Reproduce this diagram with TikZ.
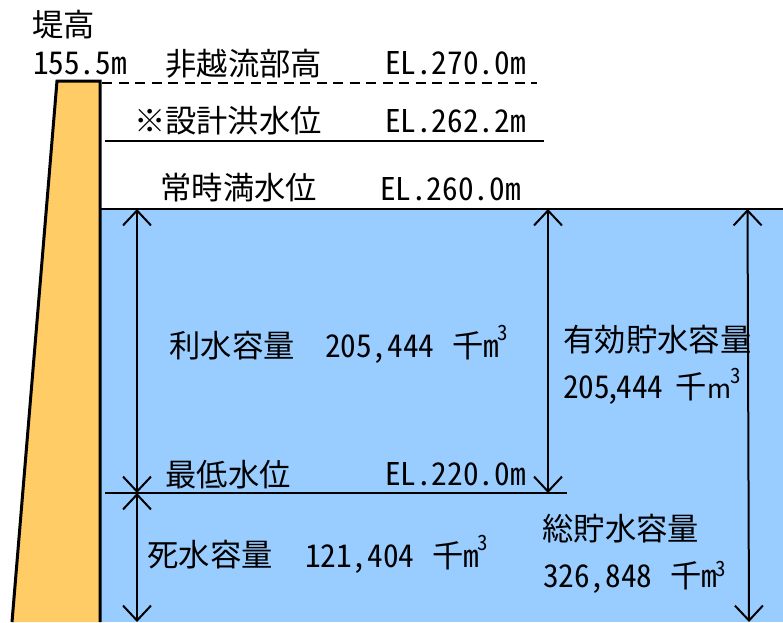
\documentclass[tikz,border=0pt]{standalone}
\usepackage{fontspec}
\usetikzlibrary{arrows.meta}
\setmainfont{Noto Sans CJK JP}
\newfontfamily\halffont[RawFeature=+hwid]{Noto Sans CJK JP}
\newcommand{\senm}[2]{千#2\raisebox{#1}{\fontsize{21}{21}\selectfont\halffont\kern-1pt 3}}
\newcommand{\narrowcomma}{\kern-4.5pt,\kern-4.5pt}
\definecolor{damcolor}{HTML}{FFCC66}
\definecolor{watercolor}{HTML}{99CCFF}
\tikzset{>={Straight Barb[length=15pt,width=28pt,line width=2pt]}}
\tikzset{label/.style={anchor=base west,inner sep=0pt,outer sep=0pt,font=\fontsize{31.3}{31.3}\selectfont}}
\tikzset{level/.style={label,font=\fontsize{31.3}{31.3}\selectfont\halffont}}
\begin{document}
\begin{tikzpicture}[x=1pt,y=-1pt]
    \useasboundingbox (0,0) rectangle (783,622);
    \fill[color=watercolor] (101,209) rectangle (783,622);
    \fill[color=damcolor] (12,622) -- (57,81) -- (100,81) -- (100,622) -- cycle;
    \draw[line width=3pt] (12,622) -- (57,81) -- (100,81) -- (100,622);
    % water levels
    \coordinate (crestL) at (102,83);
    \coordinate (crestR) at (537,83);
    \coordinate (floodL) at (105,140.5);
    \coordinate (floodR) at (544,140.5);
    \coordinate (fullL) at (101,209);
    \coordinate (fullR) at (783,209);
    \coordinate (lowL) at (105,493);
    \coordinate (lowR) at (567,493);
    \draw[line width=2pt,dash pattern=on 10pt off 6.5pt] (crestL) -- (crestR);
    \draw[line width=2pt] (floodL) -- (floodR);
    \draw[line width=2pt] (fullL) -- (fullR);
    \draw[line width=2pt] (lowL) -- (lowR);
    % volume arrows
    \coordinate (useT) at (137,209);
    \coordinate (useB) at (137,493);
    \coordinate (deadB) at (137,622);
    \coordinate (effT) at (548,209);
    \coordinate (effB) at (548,493);
    \coordinate (totT) at (747.5,209);
    \coordinate (totB) at (749,622);
    \draw[<->,line width=2pt] (useT) -- (useB);
    \draw[<->,line width=2pt] (useB) -- (deadB);
    \draw[<->,line width=2pt] (effT) -- (effB);
    \draw[<->,line width=2pt] (totT) -- (totB);
    % labels
    \node[label] (dam) at (32,36) {堤高};
    \node[level] (damH) at (33,74) {155.5m};
    \node[label] (crest) at (165.5,75) {非越流部高};
    \node[level] (crestEL) at (385,74) {EL.270.0m};
    \node[label] (flood) at (134,132) {※設計洪水位};
    \node[level] (floodEL) at (385,132) {EL.262.2m};
    \node[label] (full) at (160.5,199) {常時満水位};
    \node[level] (fullEL) at (380,200) {EL.260.0m};
    \node[label] (use) at (169.5,357) {利水容量};
    \node[level] (useV) at (325,357) {205,444};
    \node[label] (useU) at (452,357) {\senm{17pt}{{\halffont m}}};
    \node[label] (eff) at (563.5,351) {有効貯水容量};
    \node[level] (effV) at (563,398) {205\narrowcomma444};
    \node[label] (effU) at (675,398) {\senm{15pt}{{\fontsize{26}{26}\selectfont\kern1pt m}}};
    \node[label] (low) at (165.5,486) {最低水位};
    \node[level] (lowEL) at (385,485) {EL.220.0m};
    \node[label] (dead) at (147.5,566) {死水容量};
    \node[level] (deadV) at (305,567) {121,404};
    \node[label] (deadU) at (432,567) {\senm{17pt}{{\halffont m}}};
    \node[label] (tot) at (542.5,540) {総貯水容量};
    \node[level] (totV) at (543,587) {326,848};
    \node[label] (totU) at (670,587) {\senm{11pt}{{\halffont m}}};
\end{tikzpicture}
\end{document}
